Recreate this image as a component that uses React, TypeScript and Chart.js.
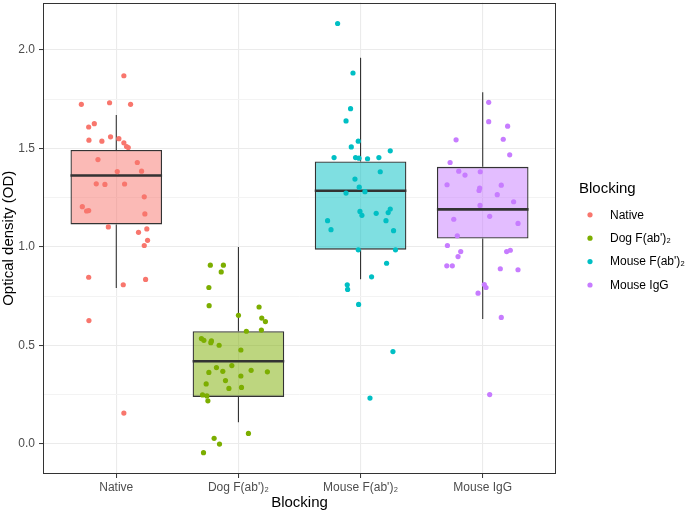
import React, { useEffect, useRef } from "react";
import { Chart, registerables } from "chart.js";

Chart.register(...registerables);

// ---- categories & styling lists ----
const categories = ["Native", "Dog F(ab')\u2082", "Mouse F(ab')\u2082", "Mouse IgG"];
const seriesColors = ["#F8766D", "#7CAE00", "#00BFC4", "#C77CFF"];
const boxFills = [
  "rgba(248,118,109,0.5)",
  "rgba(124,174,0,0.5)",
  "rgba(0,191,196,0.5)",
  "rgba(199,124,255,0.5)",
];
const legendTitle = "Blocking";
const xTitle = "Blocking";
const yTitle = "Optical density (OD)";

// ---- axis ranges / ticks ----
const yMin = -0.152;
const yMax = 2.239;
const yStep = 0.25;
const xMin = 0.4;
const xMax = 4.6;
const boxWidth = 0.75;

// ---- box statistics ----
const whiskerLow = [0.791, 0.11, 0.836, 0.634];
const q1 = [1.114, 0.239, 0.986, 1.042];
const medians = [1.362, 0.42, 1.285, 1.19];
const q3 = [1.492, 0.572, 1.433, 1.406];
const whiskerHigh = [1.669, 1.0, 1.959, 1.784];

// ---- jittered observations ----
const nativeJitter = [0.062, -0.286, -0.055, 0.117, -0.226, -0.18, -0.224, -0.118, -0.047, 0.021, 0.062, 0.084, 0.098, -0.15, 0.172, 0.008, 0.207, -0.164, -0.093, 0.068, 0.229, -0.278, -0.243, -0.226, 0.234, -0.065, 0.25, 0.182, 0.256, 0.229, -0.226, 0.057, 0.24, -0.224, 0.062];
const nativeOD = [1.868, 1.723, 1.731, 1.723, 1.608, 1.625, 1.541, 1.536, 1.558, 1.549, 1.528, 1.509, 1.504, 1.443, 1.428, 1.382, 1.384, 1.32, 1.317, 1.319, 1.254, 1.204, 1.182, 1.184, 1.167, 1.101, 1.091, 1.074, 1.033, 1.007, 0.846, 0.808, 0.835, 0.626, 0.157];

const dogJitter = [-0.23, -0.123, -0.141, -0.242, -0.24, 0.0, 0.169, 0.191, 0.221, 0.188, 0.065, -0.303, -0.283, -0.221, -0.226, -0.158, 0.02, -0.18, -0.054, -0.128, -0.242, 0.104, 0.237, 0.02, -0.264, -0.106, -0.078, 0.025, -0.294, -0.258, -0.25, -0.199, -0.155, -0.286, 0.082];
const dogOD = [0.907, 0.907, 0.873, 0.794, 0.702, 0.653, 0.695, 0.639, 0.621, 0.578, 0.572, 0.535, 0.526, 0.523, 0.514, 0.501, 0.477, 0.388, 0.398, 0.369, 0.363, 0.374, 0.366, 0.345, 0.305, 0.322, 0.282, 0.287, 0.249, 0.244, 0.219, 0.029, 0.0, -0.044, 0.054];

const mouseFabJitter = [-0.188, -0.062, -0.082, -0.119, -0.019, -0.076, 0.243, -0.217, -0.041, -0.013, 0.057, 0.15, 0.161, -0.046, -0.011, -0.119, 0.036, -0.005, 0.011, 0.128, 0.226, 0.243, -0.27, 0.208, -0.242, 0.27, -0.019, 0.286, 0.213, 0.09, -0.109, -0.106, -0.016, 0.265, 0.077];
const mouseFabOD = [2.133, 1.882, 1.701, 1.639, 1.536, 1.507, 1.487, 1.453, 1.453, 1.45, 1.447, 1.453, 1.381, 1.344, 1.303, 1.273, 1.28, 1.18, 1.16, 1.17, 1.174, 1.192, 1.133, 1.133, 1.087, 1.082, 0.985, 0.985, 0.917, 0.848, 0.808, 0.784, 0.708, 0.469, 0.233];

const mouseIgGJitter = [0.049, 0.049, 0.204, -0.218, 0.168, 0.221, -0.267, -0.196, -0.145, -0.02, -0.292, -0.025, -0.03, 0.152, 0.119, 0.253, -0.022, -0.237, 0.057, 0.289, -0.208, -0.289, -0.18, -0.202, 0.196, 0.226, -0.294, -0.249, 0.144, 0.289, 0.013, 0.027, -0.038, 0.152, 0.057];
const mouseIgGOD = [1.733, 1.635, 1.612, 1.543, 1.546, 1.467, 1.428, 1.384, 1.364, 1.381, 1.315, 1.298, 1.286, 1.313, 1.265, 1.229, 1.21, 1.14, 1.155, 1.119, 1.056, 1.007, 0.976, 0.951, 0.976, 0.983, 0.904, 0.904, 0.889, 0.884, 0.809, 0.794, 0.765, 0.642, 0.251];

const groupJitter = [nativeJitter, dogJitter, mouseFabJitter, mouseIgGJitter];
const groupOD = [nativeOD, dogOD, mouseFabOD, mouseIgGOD];

const FONT = "'Liberation Sans', Arial, Helvetica, sans-serif";

const isMajor = (v: number) => Math.abs(v / 0.5 - Math.round(v / 0.5)) < 1e-6;

const panelBorder = {
  id: "panelBorder",
  afterDatasetsDraw(chart: any) {
    const { ctx, chartArea } = chart;
    ctx.save();
    ctx.strokeStyle = "#333333";
    ctx.lineWidth = 1;
    const l = Math.round(chartArea.left) + 0.5;
    const t = Math.round(chartArea.top) + 0.5;
    const r = Math.round(chartArea.right) - 0.5;
    const b = Math.round(chartArea.bottom) - 0.5;
    ctx.strokeRect(l, t, r - l, b - t);
    ctx.restore();
  },
};

const ggLegend = {
  id: "ggLegend",
  afterDraw(chart: any) {
    const { ctx, chartArea } = chart;
    const x0 = chartArea.right + 23;
    const cy = (chartArea.top + chartArea.bottom) / 2;
    ctx.save();
    ctx.textBaseline = "middle";
    ctx.textAlign = "left";
    ctx.fillStyle = "#000000";
    ctx.font = `15px ${FONT}`;
    ctx.fillText(legendTitle, x0, cy - 49);
    ctx.font = `12px ${FONT}`;
    categories.forEach((c, i) => {
      const y = cy - 23.5 + i * 23.4;
      ctx.beginPath();
      ctx.arc(x0 + 11, y, 2.6, 0, Math.PI * 2);
      ctx.fillStyle = seriesColors[i];
      ctx.fill();
      ctx.fillStyle = "#000000";
      ctx.fillText(c, x0 + 31, y + 0.5);
    });
    ctx.restore();
  },
};

export default function App() {
  const canvasRef = useRef<HTMLCanvasElement | null>(null);

  useEffect(() => {
    document.body.style.margin = "0";
    const canvas = canvasRef.current;
    if (!canvas) return;

    const pointSets = categories.map((c, g) => ({
      type: "scatter" as const,
      label: c,
      order: 0,
      data: groupOD[g].map((v, k) => ({ x: g + 1 + groupJitter[g][k], y: v })),
      backgroundColor: seriesColors[g],
      borderWidth: 0,
      pointRadius: 2.6,
      pointHoverRadius: 2.6,
    }));

    const medianData: any[] = [];
    const whiskerData: any[] = [];
    categories.forEach((_, g) => {
      const x = g + 1;
      medianData.push({ x: x - boxWidth / 2, y: medians[g] });
      medianData.push({ x: x + boxWidth / 2, y: medians[g] });
      medianData.push({ x: x + boxWidth / 2, y: null });
      whiskerData.push({ x, y: whiskerHigh[g] });
      whiskerData.push({ x, y: q3[g] });
      whiskerData.push({ x, y: null });
      whiskerData.push({ x, y: q1[g] });
      whiskerData.push({ x, y: whiskerLow[g] });
      whiskerData.push({ x, y: null });
    });

    const chart = new Chart(canvas, {
      type: "scatter",
      data: {
        datasets: [
          ...pointSets,
          {
            type: "line",
            label: "median",
            order: 1,
            data: medianData,
            borderColor: "#333333",
            borderWidth: 2.6,
            pointRadius: 0,
            spanGaps: false,
            fill: false,
            tension: 0,
          } as any,
          {
            type: "line",
            label: "whiskers",
            order: 2,
            data: whiskerData,
            borderColor: "#333333",
            borderWidth: 1.1,
            pointRadius: 0,
            spanGaps: false,
            fill: false,
            tension: 0,
          } as any,
          {
            type: "bar",
            label: "boxes",
            order: 3,
            data: categories.map((_, g) => ({ x: g + 1, y: [q1[g], q3[g]] })),
            backgroundColor: boxFills,
            borderColor: "#333333",
            borderWidth: 1.3,
            borderSkipped: false,
            categoryPercentage: 1,
            barPercentage: boxWidth,
            grouped: false,
          } as any,
        ],
      },
      options: {
        animation: false,
        responsive: false,
        maintainAspectRatio: false,
        layout: { padding: { top: 1, right: 129, bottom: 0, left: 0 } },
        plugins: {
          legend: { display: false },
          tooltip: { enabled: false },
        },
        scales: {
          x: {
            type: "linear",
            min: xMin,
            max: xMax,
            offset: false,
            border: { display: false },
            grid: {
              offset: false,
              color: "#EBEBEB",
              lineWidth: 1.1,
              drawTicks: true,
              tickLength: 4,
              tickColor: "#333333",
              tickWidth: 1,
            },
            afterBuildTicks: (scale: any) => {
              scale.ticks = categories.map((_, i) => ({ value: i + 1 }));
            },
            afterFit: (scale: any) => {
              scale.height = 38;
              scale.paddingLeft = 0;
              scale.paddingRight = 0;
            },
            ticks: {
              autoSkip: false,
              maxRotation: 0,
              padding: 2,
              color: "#4D4D4D",
              font: { family: FONT, size: 12 },
              callback: (v: any) => categories[Math.round(Number(v)) - 1] ?? "",
            },
            title: {
              display: true,
              text: xTitle,
              color: "#000000",
              font: { family: FONT, size: 15 },
              padding: 0,
            },
          },
          y: {
            type: "linear",
            min: yMin,
            max: yMax,
            border: { display: false },
            grid: {
              color: (ctx: any) => (ctx.tick && isMajor(ctx.tick.value) ? "#EBEBEB" : "#F3F3F3"),
              lineWidth: (ctx: any) => (ctx.tick && isMajor(ctx.tick.value) ? 1.1 : 1),
              drawTicks: true,
              tickLength: 4,
              tickColor: (ctx: any) => (ctx.tick && isMajor(ctx.tick.value) ? "#333333" : "rgba(0,0,0,0)"),
              tickWidth: 1,
            },
            afterFit: (scale: any) => {
              scale.width = 43;
              scale.paddingTop = 0;
              scale.paddingBottom = 0;
            },
            ticks: {
              stepSize: yStep,
              includeBounds: false,
              autoSkip: false,
              padding: 4,
              color: "#4D4D4D",
              font: { family: FONT, size: 12 },
              callback: (v: any) => (isMajor(Number(v)) ? Number(v).toFixed(1) : ""),
            },
            title: {
              display: true,
              text: yTitle,
              color: "#000000",
              font: { family: FONT, size: 15 },
              padding: 0,
            },
          },
        },
      } as any,
      plugins: [panelBorder, ggLegend],
    });

    return () => chart.destroy();
  }, []);

  return (
    <div style={{ width: 685, height: 512 }}>
      <canvas ref={canvasRef} width={685} height={512} style={{ display: "block" }} />
    </div>
  );
}
